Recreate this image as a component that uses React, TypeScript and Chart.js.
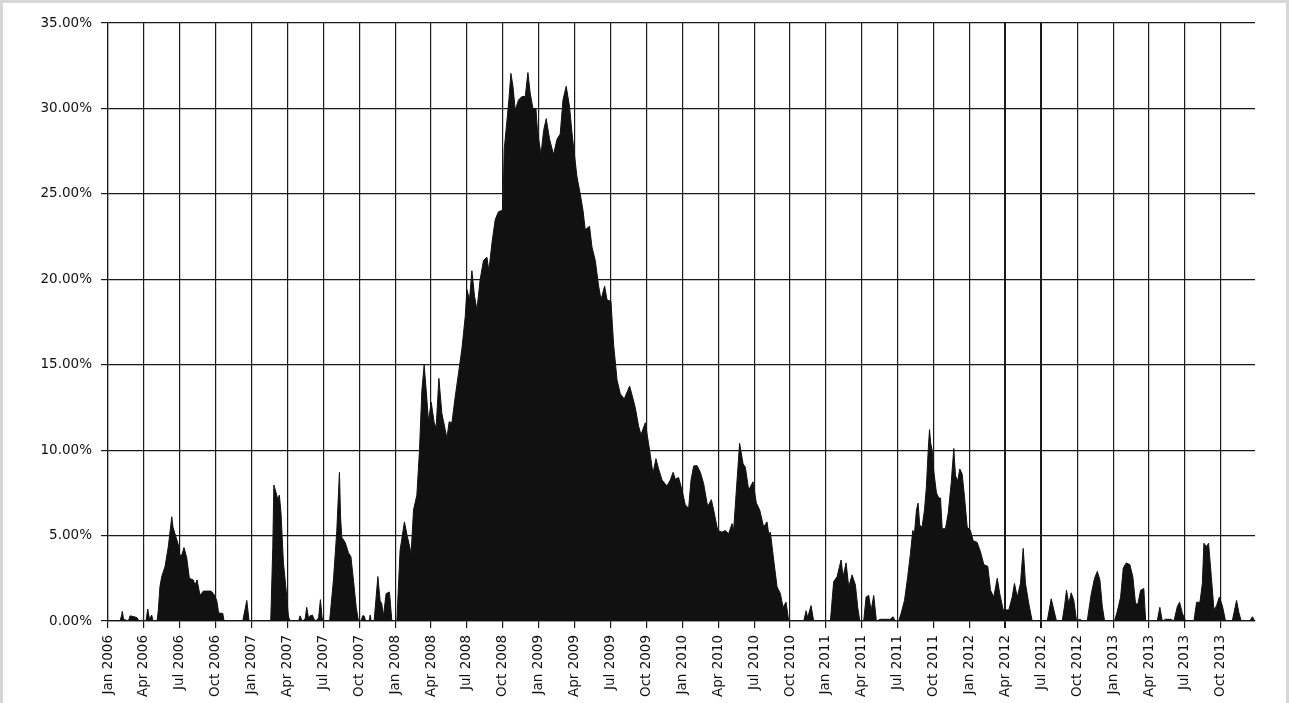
import React, { useEffect, useRef } from "react";
import { Chart, registerables } from "chart.js";

Chart.register(...registerables);

// x positions in months since Jan 2006
const months: number[] = [
  0, 1.0, 1.13, 1.2, 1.3, 1.71, 1.84, 2.17, 2.42, 2.59, 3.18, 3.32, 3.47, 3.65, 3.76,
  4.1, 4.2, 4.34, 4.49, 4.77, 5.04, 5.33, 5.43, 5.6, 5.88, 6.02, 6.19, 6.35, 6.58, 6.8,
  7.13, 7.27, 7.44, 7.69, 7.97, 8.61, 8.86, 9.09, 9.24, 9.36, 9.59, 9.7,
  11.26, 11.6, 11.71, 11.79,
  13.6, 13.77, 13.86, 14.05, 14.19, 14.32, 14.46, 14.66, 14.86, 15.08, 15.22,
  15.93, 16.05, 16.22, 16.47, 16.61, 16.76, 16.89, 17.08, 17.22, 17.39, 17.6, 17.75, 17.89, 18.01,
  18.52, 18.84, 19.12, 19.34, 19.44, 19.54, 19.82, 20.09, 20.3, 20.51, 20.74, 20.93,
  21.15, 21.28, 21.4, 21.53, 21.82, 21.91, 21.99,
  22.24, 22.55, 22.74, 22.88, 23.02, 23.24, 23.52, 23.72,
  24.14, 24.41, 24.77, 24.97, 25.33, 25.53, 25.81, 26.03, 26.23, 26.42, 26.59, 26.78,
  27.01, 27.26, 27.42, 27.65, 27.9, 28.18, 28.32, 28.51, 28.74, 29.01, 29.29, 29.57,
  29.85, 29.99, 30.21, 30.41, 30.63, 30.83, 31.1, 31.38, 31.66, 31.83, 32.08, 32.36,
  32.63, 33.0, 33.11, 33.34, 33.5, 33.67, 33.84, 34.03, 34.31, 34.59, 34.87, 35.09,
  35.28, 35.51, 35.76, 35.89, 36.18, 36.4, 36.62, 36.9, 37.23, 37.52, 37.79, 38.02,
  38.29, 38.57, 38.77, 38.96, 39.19, 39.46, 39.69, 39.88, 40.24, 40.44, 40.72, 41.0,
  41.2, 41.5, 41.7, 42.03, 42.25, 42.54, 42.81, 43.14, 43.59, 43.84, 44.06, 44.34,
  44.54, 44.9, 45.26, 45.54, 45.79, 46.01, 46.3, 46.71, 46.99, 47.22, 47.41, 47.68,
  47.97, 48.24, 48.52, 48.72, 48.94, 49.22, 49.5, 49.77, 50.11, 50.42, 50.61, 50.95,
  51.31, 51.59, 51.86, 52.15, 52.28, 52.51, 52.78, 53.07, 53.26, 53.54, 53.9, 54.18,
  54.46, 54.79, 55.07, 55.21, 55.35, 55.63, 55.91, 56.19, 56.41, 56.66, 56.88,
  58.14, 58.34, 58.47, 58.75, 58.97,
  60.37, 60.64, 60.93, 61.26, 61.43, 61.68, 61.9, 62.18, 62.46, 62.65, 62.82,
  63.15, 63.35, 63.57, 63.77, 63.99, 64.21, 64.55, 65.38, 65.59, 65.8,
  66.08, 66.28, 66.56, 66.83, 67.06, 67.25, 67.39, 67.56, 67.7, 67.83, 68.03, 68.23,
  68.39, 68.54, 68.65, 68.75, 68.87, 69.0, 69.23, 69.42, 69.57, 69.71, 69.98, 70.21,
  70.46, 70.68, 70.82, 71.01, 71.18, 71.38, 71.57, 71.8, 72.07, 72.3, 72.63, 72.91,
  73.19, 73.52, 73.75, 74.02, 74.31, 74.52, 74.81, 75.28, 75.56, 75.75, 75.98, 76.25,
  76.48, 76.67, 76.95, 77.23,
  78.49, 78.82, 79.04, 79.26,
  79.74, 79.93, 80.1, 80.29, 80.49, 80.71, 80.94, 81.21, 81.44,
  81.83, 82.17, 82.44, 82.67, 82.89, 83.09, 83.28,
  84.11, 84.34, 84.62, 84.84, 85.09, 85.39, 85.64, 85.87, 86.06, 86.29, 86.56, 86.71,
  87.68, 87.9, 88.1, 88.38, 88.8, 89.08, 89.36, 89.55, 89.78, 90.05,
  90.75, 90.97, 91.25, 91.45, 91.58, 91.78, 91.97, 92.2, 92.42, 92.64, 92.87, 93.12, 93.39,
  93.95, 94.31, 94.5, 94.7, 95.43, 95.63, 95.82,
];

// series values, percent
const exposure: number[] = [
  0, 0, 0.3, 0.57, 0.1, 0, 0.3, 0.25, 0.2, 0, 0, 0.7, 0.1, 0.35, 0,
  0, 0.6, 2.0, 2.6, 3.2, 4.35, 6.1, 5.5, 5.1, 4.45, 3.8, 3.9, 4.3, 3.7, 2.5,
  2.4, 2.1, 2.4, 1.5, 1.75, 1.75, 1.55, 1.2, 0.5, 0.45, 0.45, 0,
  0, 1.2, 0.5, 0,
  0, 4.3, 7.96, 7.5, 7.1, 7.37, 6.3, 3.4, 2.0, 0.23, 0,
  0, 0.3, 0, 0.1, 0.8, 0.15, 0.3, 0.35, 0.1, 0, 0.2, 1.25, 0.2, 0,
  0, 2.4, 5.3, 8.7, 6.0, 4.9, 4.6, 4.0, 3.76, 2.4, 0.8, 0,
  0, 0.3, 0.3, 0, 0, 0.35, 0,
  0, 2.6, 1.2, 1.0, 0.3, 1.6, 1.7, 0,
  0, 4.15, 5.8, 5.1, 3.96, 6.5, 7.37, 10.0, 13.5, 15.0, 13.5, 11.7,
  12.8, 11.6, 11.3, 14.2, 12.15, 11.2, 10.7, 11.66, 11.6, 13.1, 14.5, 15.9,
  17.8, 19.4, 18.8, 20.5, 19.0, 18.2, 20.0, 21.1, 21.3, 20.5, 22.1, 23.5,
  23.95, 24.05, 27.6, 29.3, 30.5, 32.05, 31.3, 29.9, 30.5, 30.7, 30.7, 32.1,
  30.9, 30.0, 30.0, 28.7, 27.3, 28.7, 29.4, 28.2, 27.3, 28.2, 28.5, 30.5,
  31.3, 30.1, 28.6, 27.4, 26.0, 25.0, 24.05, 22.9, 23.1, 21.9, 21.1, 19.6,
  18.8, 19.6, 18.8, 18.7, 16.2, 14.1, 13.3, 13.0, 13.75, 13.1, 12.5, 11.4,
  10.9, 11.6, 10.0, 8.64, 9.5, 8.9, 8.25, 7.9, 8.25, 8.7, 8.3, 8.4,
  7.66, 6.8, 6.6, 8.25, 9.07, 9.1, 8.7, 8.05, 6.7, 7.1, 6.5, 5.3,
  5.2, 5.3, 5.1, 5.7, 5.3, 7.66, 10.4, 9.2, 9.0, 7.66, 8.15, 6.9,
  6.5, 5.5, 5.8, 5.1, 5.2, 3.57, 2.0, 1.6, 0.8, 1.1, 0,
  0, 0.6, 0.2, 0.9, 0,
  0, 2.3, 2.6, 3.57, 2.6, 3.4, 2.0, 2.7, 2.1, 0.8, 0,
  0, 1.4, 1.5, 0.6, 1.5, 0, 0.1, 0.1, 0.25, 0,
  0, 0.45, 1.2, 2.6, 3.96, 5.3, 5.1, 6.5, 6.9, 5.6, 5.5, 6.5,
  7.86, 10.0, 11.2, 10.4, 10.0, 8.8, 7.5, 7.2, 7.2, 5.4, 5.4, 6.3,
  8.05, 10.1, 8.5, 8.2, 8.9, 8.6, 7.3, 5.5, 5.3, 4.7, 4.6, 4.05,
  3.3, 3.2, 1.8, 1.4, 2.5, 1.6, 0.65, 0.65, 1.4, 2.2, 1.4, 2.2,
  4.25, 2.2, 1.0, 0,
  0, 1.3, 0.65, 0,
  0, 0.85, 1.8, 1.0, 1.65, 1.2, 0, 0.1, 0,
  0, 1.6, 2.5, 2.9, 2.4, 0.85, 0,
  0, 0.55, 1.4, 3.1, 3.4, 3.3, 2.6, 1.0, 1.0, 1.8, 1.9, 0,
  0, 0.8, 0, 0.1, 0.1, 0, 0.85, 1.1, 0.45, 0,
  0, 1.1, 1.1, 2.2, 4.55, 4.35, 4.55, 2.6, 0.65, 0.9, 1.4, 0.9, 0,
  0, 1.2, 0.5, 0, 0, 0.25, 0,
];

const quarterLabels: string[] = [
  "Jan 2006", "Apr 2006", "Jul 2006", "Oct 2006",
  "Jan 2007", "Apr 2007", "Jul 2007", "Oct 2007",
  "Jan 2008", "Apr 2008", "Jul 2008", "Oct 2008",
  "Jan 2009", "Apr 2009", "Jul 2009", "Oct 2009",
  "Jan 2010", "Apr 2010", "Jul 2010", "Oct 2010",
  "Jan 2011", "Apr 2011", "Jul 2011", "Oct 2011",
  "Jan 2012", "Apr 2012", "Jul 2012", "Oct 2012",
  "Jan 2013", "Apr 2013", "Jul 2013", "Oct 2013",
];

const yTicks: number[] = [0, 5, 10, 15, 20, 25, 30, 35];

export default function App() {
  const ref = useRef<HTMLCanvasElement | null>(null);

  useEffect(() => {
    document.body.style.margin = "0";
    const canvas = ref.current;
    if (!canvas) return;
    const points = months.map((m, i) => ({ x: m, y: exposure[i] }));
    const tickValues = quarterLabels.map((_, i) => i * 3);
    const lineColor = "#1a1a1a";
    const font = { family: "DejaVu Sans", size: 13.5 };

    const chart = new Chart(canvas, {
      type: "line",
      data: {
        datasets: [
          {
            data: points,
            fill: "origin",
            backgroundColor: "#111111",
            borderColor: "#111111",
            borderWidth: 1,
            pointRadius: 0,
            tension: 0,
          },
        ],
      },
      options: {
        animation: false,
        responsive: false,
        devicePixelRatio: 1,
        layout: { padding: { top: 20, right: 31, left: 0, bottom: 0 } },
        plugins: {
          legend: { display: false },
          tooltip: { enabled: false },
        },
        scales: {
          x: {
            type: "linear",
            min: 0,
            max: 95.85,
            afterBuildTicks: (scale: any) => {
              scale.ticks = tickValues.map((v) => ({ value: v }));
            },
            afterFit: (scale: any) => {
              scale.height = 82;
            },
            grid: {
              color: lineColor,
              lineWidth: (ctx: any) =>
                ctx.tick && (ctx.tick.value === 75 || ctx.tick.value === 78) ? 2 : 1.2,
              tickLength: 7,
              drawTicks: true,
            },
            border: { display: true, color: lineColor, width: 1.2 },
            ticks: {
              autoSkip: false,
              minRotation: 90,
              maxRotation: 90,
              padding: 7,
              color: "#111111",
              font,
              callback: (v: any) => {
                const i = Math.round(Number(v) / 3);
                return quarterLabels[i] ?? "";
              },
            },
          },
          y: {
            min: 0,
            max: 35,
            afterBuildTicks: (scale: any) => {
              scale.ticks = yTicks.map((v) => ({ value: v }));
            },
            afterFit: (scale: any) => {
              scale.width = 105;
            },
            grid: { color: lineColor, lineWidth: 1.2, tickLength: 7, drawTicks: true },
            border: { display: true, color: lineColor, width: 1.2 },
            ticks: {
              padding: 9,
              color: "#111111",
              font,
              callback: (v: any) => Number(v).toFixed(2) + "%",
            },
          },
        },
      },
    });
    return () => chart.destroy();
  }, []);

  return (
    <div
      style={{
        width: 1289,
        height: 703,
        boxSizing: "border-box",
        borderTop: "3px solid #d6d6d6",
        borderLeft: "3px solid #d6d6d6",
        borderRight: "3px solid #d6d6d6",
        background: "#ffffff",
        position: "relative",
        overflow: "hidden",
      }}
    >
      <canvas ref={ref} width={1283} height={700} style={{ display: "block" }} />
    </div>
  );
}
